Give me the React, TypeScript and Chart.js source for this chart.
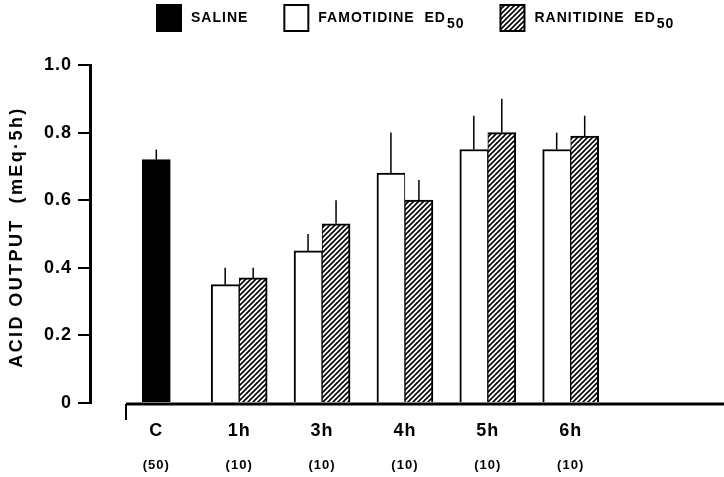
import React, { useEffect, useRef } from 'react';
import { Chart, registerables } from 'chart.js';

Chart.register(...registerables);

// ---- data ----
const categories = ['C', '1h', '3h', '4h', '5h', '6h'];
const groupSizes = ['(50)', '(10)', '(10)', '(10)', '(10)', '(10)'];
const seriesLabels = ['SALINE', 'FAMOTIDINE  ED50', 'RANITIDINE  ED50'];
const salineValues = [0.72, null, null, null, null, null];
const salineErrors = [0.03, null, null, null, null, null];
const famotidineValues = [null, 0.35, 0.45, 0.68, 0.75, 0.75];
const famotidineErrors = [null, 0.05, 0.05, 0.12, 0.10, 0.05];
const ranitidineValues = [null, 0.37, 0.53, 0.60, 0.80, 0.79];
const ranitidineErrors = [null, 0.03, 0.07, 0.06, 0.10, 0.06];
const yTicks = [0, 0.2, 0.4, 0.6, 0.8, 1.0];
const yTitle = 'ACID OUTPUT  (mEq·5h)';

const FONT = '"Liberation Sans", Arial, sans-serif';

function makeHatch(ctx: CanvasRenderingContext2D): CanvasPattern | string {
  const s = 5;
  const c = document.createElement('canvas');
  c.width = s;
  c.height = s;
  const g = c.getContext('2d');
  if (!g) return '#888';
  g.fillStyle = '#fff';
  g.fillRect(0, 0, s, s);
  g.strokeStyle = '#000';
  g.lineWidth = 1.6;
  g.beginPath();
  g.moveTo(-1, s + 1);
  g.lineTo(s + 1, -1);
  g.moveTo(-2, 2);
  g.lineTo(2, -2);
  g.moveTo(s - 2, s + 2);
  g.lineTo(s + 2, s - 2);
  g.stroke();
  return ctx.createPattern(c, 'repeat') || '#888';
}

export default function App() {
  const ref = useRef<HTMLCanvasElement | null>(null);

  useEffect(() => {
    const canvas = ref.current;
    if (!canvas) return;
    const ctx0 = canvas.getContext('2d') as CanvasRenderingContext2D;
    const hatch = makeHatch(ctx0);
    const fills: any[] = ['#000', '#fff', hatch];
    const valueSets = [salineValues, famotidineValues, ranitidineValues];
    const errorSets = [salineErrors, famotidineErrors, ranitidineErrors];

    const mk = (i: number, bw: any) => ({
      label: seriesLabels[i],
      data: valueSets[i].map((v, k) => ({ x: k, y: v })),
      backgroundColor: fills[i],
      borderColor: '#000',
      borderWidth: bw,
      borderSkipped: 'bottom',
      barThickness: 28,
      skipNull: true,
    });

    const spacing = (c: any) => {
      c.ctx.letterSpacing = '1px';
    };

    const errorBars = {
      id: 'errorBars',
      afterDatasetsDraw(chart: any) {
        const ctx = chart.ctx;
        const ys = chart.scales.y;
        ctx.save();
        ctx.strokeStyle = '#000';
        ctx.lineWidth = 1.5;
        valueSets.forEach((vals, d) => {
          const meta = chart.getDatasetMeta(d);
          meta.data.forEach((el: any, k: number) => {
            const v = vals[k];
            const e = errorSets[d][k];
            if (v == null || e == null) return;
            const top = ys.getPixelForValue(v + e);
            ctx.beginPath();
            ctx.moveTo(el.x, el.y);
            ctx.lineTo(el.x, top);
            ctx.stroke();
          });
        });
        ctx.restore();
      },
    };

    const xAxis = {
      id: 'xAxisDraw',
      afterDatasetsDraw(chart: any) {
        const ctx = chart.ctx;
        const area = chart.chartArea;
        const xs = chart.scales.x;
        ctx.save();
        ctx.strokeStyle = '#000';
        const x0 = area.left + 36;
        const yb = area.bottom + 1;
        ctx.lineWidth = 3;
        ctx.beginPath();
        ctx.moveTo(x0, yb);
        ctx.lineTo(chart.width, yb);
        ctx.stroke();
        ctx.lineWidth = 2;
        ctx.beginPath();
        ctx.moveTo(x0, yb);
        ctx.lineTo(x0, yb + 16);
        ctx.stroke();
        ctx.fillStyle = '#000';
        ctx.textAlign = 'center';
        ctx.textBaseline = 'middle';
        ctx.letterSpacing = '1px';
        categories.forEach((c, i) => {
          const px = xs.getPixelForValue(i);
          ctx.font = `bold 18px ${FONT}`;
          ctx.fillText(c, px, area.bottom + 28);
          ctx.font = `bold 13px ${FONT}`;
          ctx.fillText(groupSizes[i], px, area.bottom + 62);
        });
        // y-axis title
        ctx.save();
        ctx.translate(17, (area.top + area.bottom) / 2 + 3);
        ctx.rotate(-Math.PI / 2);
        ctx.letterSpacing = '2.4px';
        ctx.font = `bold 18px ${FONT}`;
        ctx.fillText(yTitle, 0, 0);
        ctx.restore();
        ctx.restore();
      },
    };

    const legend = {
      id: 'customLegend',
      afterDraw(chart: any) {
        const ctx = chart.ctx;
        ctx.save();
        ctx.letterSpacing = '1px';
        let x = 157;
        const cy = 18;
        seriesLabels.forEach((label, i) => {
          const bw = 24;
          const bh = 26;
          ctx.fillStyle = fills[i];
          ctx.fillRect(x, cy - bh / 2, bw, bh);
          ctx.strokeStyle = '#000';
          ctx.lineWidth = 2;
          ctx.strokeRect(x, cy - bh / 2, bw, bh);
          x += bw + 10;
          const m = label.match(/^(.*ED)(\d+)$/);
          const main = m ? m[1] : label;
          const sub = m ? m[2] : '';
          ctx.fillStyle = '#000';
          ctx.textAlign = 'left';
          ctx.textBaseline = 'middle';
          ctx.font = `bold 14px ${FONT}`;
          ctx.fillText(main, x, cy);
          x += ctx.measureText(main).width;
          if (sub) {
            ctx.font = `bold 14px ${FONT}`;
            ctx.fillText(sub, x + 1, cy + 6);
            x += ctx.measureText(sub).width + 1;
          }
          x += 36;
        });
        ctx.restore();
      },
    };

    const chart = new Chart(canvas, {
      type: 'bar',
      data: {
        datasets: [
          mk(0, 2),
          mk(1, { top: 2, left: 2, right: 1, bottom: 0 }),
          mk(2, { top: 2, left: 1, right: 2, bottom: 0 }),
        ] as any,
      },
      options: {
        animation: false,
        responsive: true,
        maintainAspectRatio: false,
        layout: { padding: { top: 65, right: 0, bottom: 74, left: 0 } },
        plugins: {
          legend: { display: false },
          tooltip: { enabled: false },
        },
        scales: {
          x: { type: 'linear', min: -0.8, max: 6.85, offset: false, display: false },
          y: {
            min: 0,
            max: 1,
            afterFit: (s: any) => {
              s.width = 90;
            },
            afterBuildTicks: (s: any) => {
              s.ticks = yTicks.map((v) => ({ value: v }));
            },
            ticks: {
              color: '#000',
              font: { family: FONT, size: 18, weight: 'bold' },
              padding: 6,
              callback: (v: any) => (v === 0 ? '0' : Number(v).toFixed(1)),
            },
            grid: { drawOnChartArea: false, tickLength: 12, color: '#000', lineWidth: 2 },
            border: { display: true, color: '#000', width: 3 },
            title: { display: false },
          },
        },
      } as any,
      plugins: [{ id: 'spacing', beforeDraw: spacing }, errorBars, xAxis, legend],
    });
    return () => chart.destroy();
  }, []);

  return (
    <div style={{ position: 'fixed', left: 0, top: 0, width: 724, height: 477, background: '#fff' }}>
      <canvas ref={ref} />
    </div>
  );
}
